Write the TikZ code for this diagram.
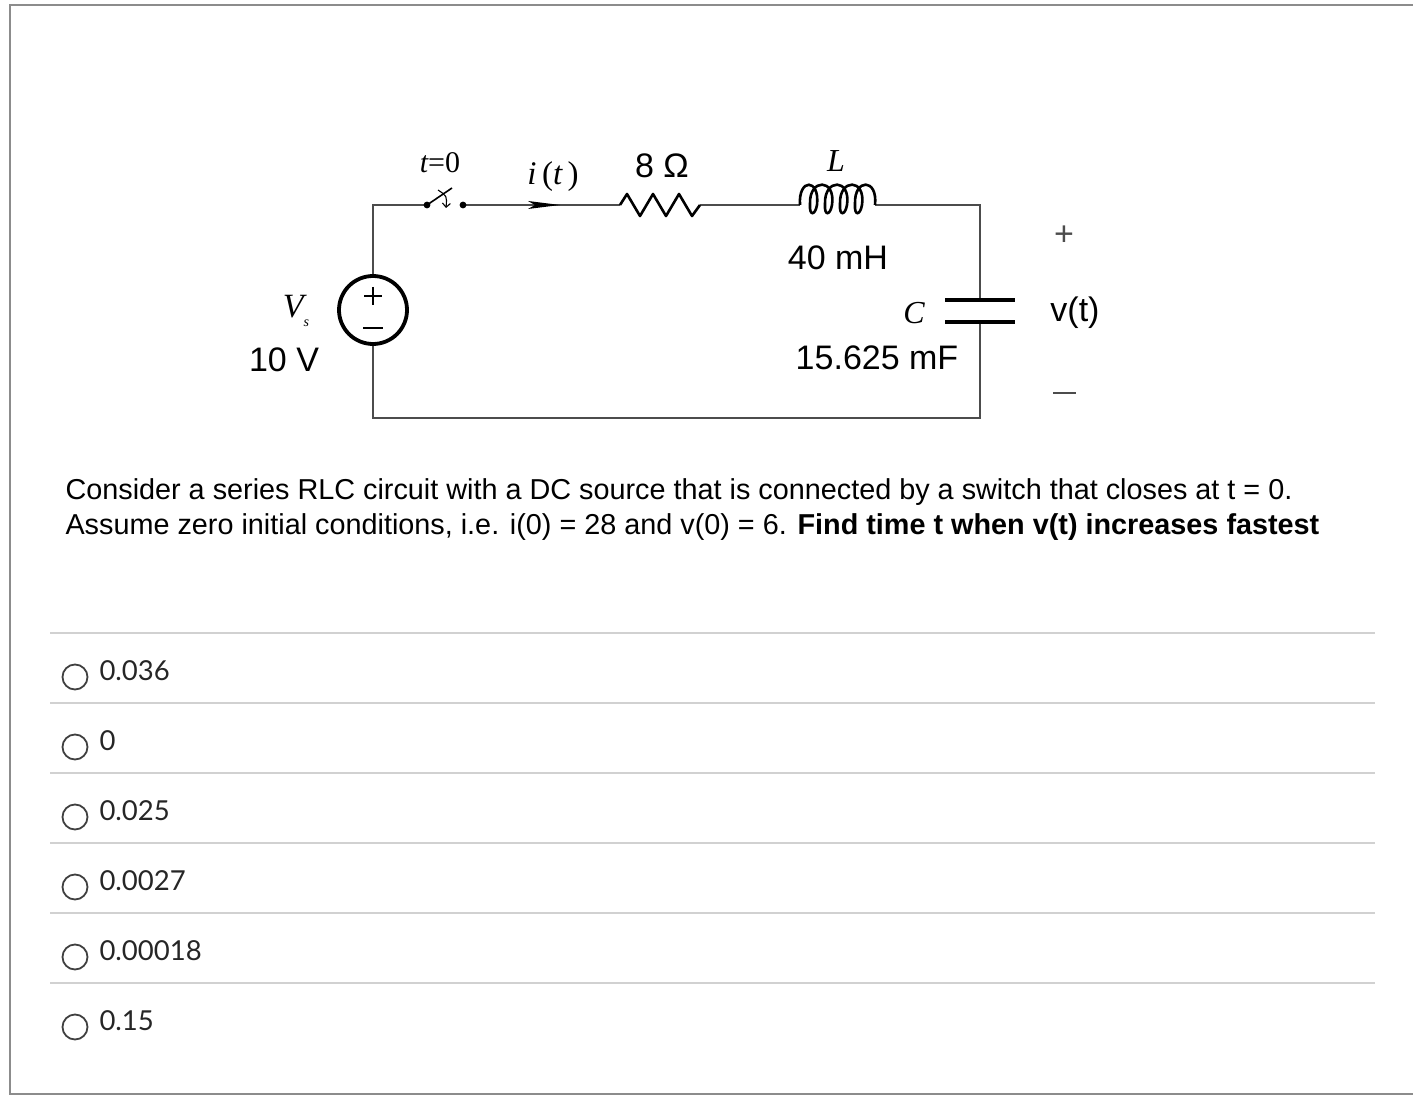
\documentclass[tikz,border=0pt]{standalone}
\usepackage{fontspec}
\setmainfont{Liberation Sans}
\newfontfamily\serifx{Liberation Serif}
\newfontfamily\latox{Lato}
\usetikzlibrary{arrows.meta}
\begin{document}
\begin{tikzpicture}[x=1pt,y=-1pt,
  wire/.style={draw=black!70,line width=1.4pt},
  sep/.style={draw=black!18,line width=1.2pt},
  radio/.style={draw=black!75,line width=1.8pt},
  ans/.style={anchor=west,font=\latox\fontsize{27.5}{30}\selectfont,text=black!85},
  lbl/.style={font=\fontsize{34}{38}\selectfont}]
\useasboundingbox (0,0) rectangle (1413,1099);
\draw[draw=black!45,line width=1.5pt] (1413,5) -- (10,5) -- (10,1094) -- (1413,1094);
% circuit
\coordinate (tl) at (373,205); \coordinate (tr) at (980,205);
\coordinate (bl) at (373,418); \coordinate (br) at (980,418);
\node[circle,draw,line width=3.8pt,minimum size=68pt,inner sep=0] (src) at (373,310) {};
\draw[line width=1.2pt] (364,296)--(382,296) (373,287)--(373,305) (363,328)--(383,328);
\coordinate (s1) at (427,205); \coordinate (s2) at (463,205);
\coordinate (r1) at (620,205); \coordinate (r2) at (700,205);
\coordinate (l1) at (800,205); \coordinate (l2) at (875,205);
\coordinate (c1) at (980,300); \coordinate (c2) at (980,322);
\draw[wire] (src.north) -- (tl) -- (s1);
\draw[wire] (s2) -- (r1);
\draw[wire] (r2) -- (l1);
\draw[wire] (l2) -- (tr) -- (c1);
\draw[wire] (c2) -- (br) -- (bl) -- (src.south);
\fill (s1) circle (3.4pt) (s2) circle (3.4pt);
\draw[line width=1.6pt] (s1) -- (452,188);
\draw[line width=1.1pt,-{Straight Barb[length=4pt]}] (438,190) .. controls (447,196) .. (446,208);
\fill (528,201) -- (560,205) -- (528,209) -- (535,205) -- cycle;
\draw[line width=2.6pt,line join=round] (r1) -- (627,194) -- (640,216) -- (653,194) -- (666,216) -- (679,194) -- (692,216) -- (r2);
\draw[line width=2.6pt] (l1) .. controls (798,178) and (820,178) .. (817,205) .. controls (815,216) and (809,216) .. (810,204)
 .. controls (809,178) and (836,178) .. (832,205) .. controls (830,216) and (824,216) .. (825,204)
 .. controls (824,178) and (851,178) .. (847,205) .. controls (845,216) and (839,216) .. (840,204)
 .. controls (839,178) and (866,178) .. (862,205) .. controls (860,216) and (854,216) .. (855,204)
 .. controls (854,178) and (878,178) .. (l2);
\draw[line width=3.4pt] (945,300) -- (1015,300) (945,322) -- (1015,322);
% labels
\node[font=\serifx\itshape\fontsize{30}{30}\selectfont] (t0) at (440,163) {t{\upshape=0}};
\node[font=\serifx\fontsize{33}{34}\selectfont] (it) at (553,177) {\itshape i\,\upshape(\itshape t\upshape\,)};
\node[lbl] (rv) at (662,166) {8 Ω};
\node[font=\serifx\itshape\fontsize{32}{34}\selectfont] (ll) at (836,161) {L};
\node[lbl] (lv) at (838,258) {40 mH};
\node[font=\serifx\itshape\fontsize{32}{34}\selectfont] (cl) at (914,313) {C};
\node[lbl] (cv) at (877,358) {15.625 mF};
\node[font=\serifx\itshape\fontsize{34}{34}\selectfont,inner sep=1pt] (vs) at (296,311) {V\raisebox{-9pt}{\fontsize{14}{14}\selectfont s}};
\node[lbl] (vsv) at (284,360) {10 V};
\node[font=\fontsize{34}{34}\selectfont\color{black!70}] (pl) at (1064,236) {+};
\node[lbl] (vt) at (1075,313) {v(t)};
\draw[line width=1.2pt,black!70] (1053,393) -- (1076,393);
\node[anchor=west,align=left,font=\fontsize{28.8}{35}\selectfont] (q) at (62,510) {Consider a series RLC circuit with a DC source that is connected by a switch that closes at t = 0.\\Assume zero initial conditions, i.e. i(0) = 28 and v(0) = 6. \textbf{Find time t when v(t) increases fastest}};
% answers
\foreach \y/\t [count=\i] in {671/0.036,741/0,811/0.025,881/0.0027,951/0.00018,1021/0.15}{
  \draw[sep] (50,\y-38) -- (1375,\y-38);
  \draw[radio] (75,\y+6) circle (12.5);
  \node[ans] (a\i) at (96,\y) {\t};
}
\end{tikzpicture}
\end{document}
